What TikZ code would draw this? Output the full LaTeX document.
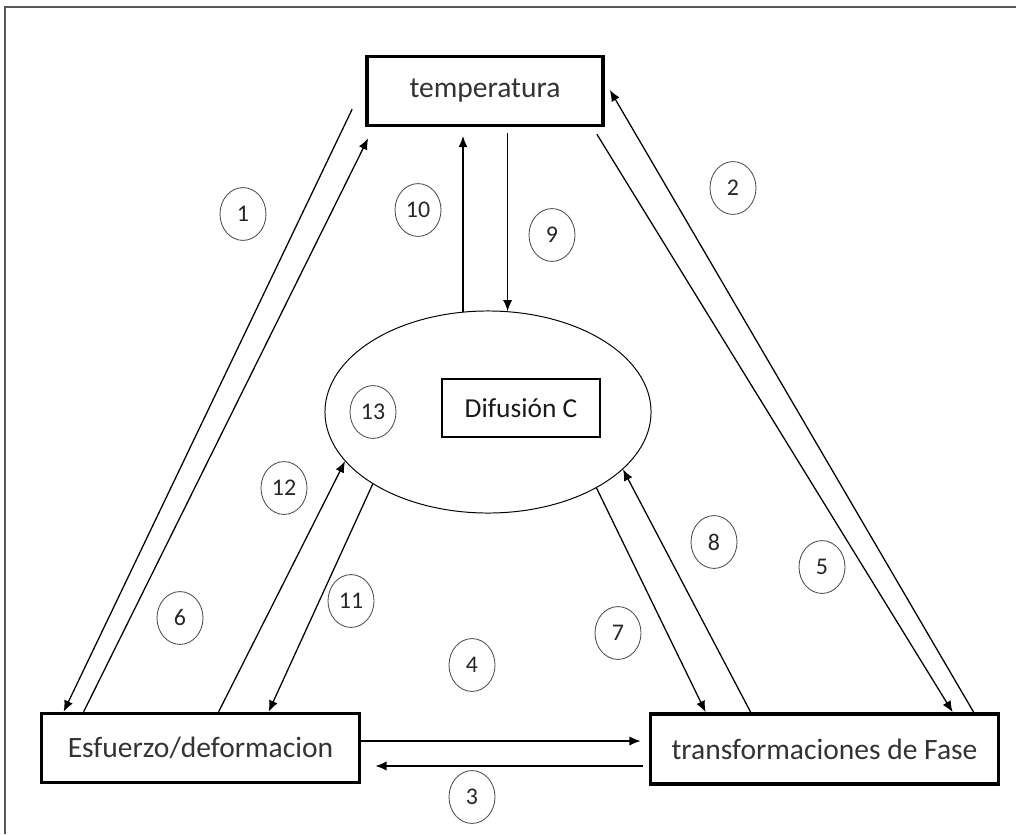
\documentclass[tikz,border=0pt]{standalone}
\usepackage{fontspec}
\setmainfont{Carlito}
\usetikzlibrary{calc,arrows.meta,shapes.geometric}
\tikzset{
    caja/.style={draw, line width=2.6pt, minimum height=1.72cm, inner sep=0pt, font=\fontsize{21}{24}\selectfont, text=black!80},
    num/.style={ellipse, draw=black!70, line width=0.6pt, minimum width=1.15cm, minimum height=1.32cm, inner sep=0pt, font=\fontsize{17}{19}\selectfont, text=black!85},
    flecha/.style={line width=0.9pt, -{Latex[length=2.8mm,width=2.3mm]}},
    linea/.style={line width=0.9pt},
  }
\begin{document}
\begin{tikzpicture}[x=0.025cm,y=-0.025cm]
	\useasboundingbox (0,0) rectangle (1016,834);
	%CADRE
	\draw[black!65, line width=0.8pt] (5,834) -- (5,7) -- (1016,7);
	%BOITES
	\node[caja, minimum width=5.9cm] (temp) at (485,91) {temperatura};
	\node[caja, minimum width=7.95cm] (esf) at (200.5,748) {Esfuerzo/deformacion};
	\node[caja, minimum width=8.7cm, minimum height=1.75cm] (trans) at (824.5,749) {transformaciones de Fase};
	%ELLIPSE
	\node[ellipse, draw, line width=0.7pt, minimum width=8.15cm, minimum height=5.05cm] (ell) at (488,412) {};
	\node[draw, line width=1pt, minimum width=3.95cm, minimum height=1.45cm, font=\fontsize{19.5}{22}\selectfont, text=black!90] (dif) at (521,408) {Difusión C};
	%TEMPERATURA - ESFUERZO
	\coordinate (l1) at ($(temp.south west)+(-13,-18)$);
	\draw[flecha] (l1) -- ($(esf.north west)+(24,0)$);
	\draw[flecha] ($(esf.north west)+(44,0)$) -- ($(temp.south west)+(3,11)$);
	%TEMPERATURA - TRANSFORMACIONES
	\draw[flecha] ($(trans.north west)+(325,0)$) -- ($(temp.east)+(5,-1)$);
	\coordinate (l5) at ($(temp.south east)+(-8,7)$);
	\draw[flecha] (l5) -- ($(trans.north west)+(304,0)$);
	%ESFUERZO - TRANSFORMACIONES
	\draw[flecha] ($(esf.east)+(0,-7)$) -- ($(trans.west)+(-8,-8)$);
	\draw[flecha] ($(trans.west)+(-6,17)$) -- ($(esf.east)+(14,18)$);
	%DIFUSION
	\draw[flecha] (ell.104) -- ([yshift=-0.22cm]temp.south -| ell.104);
	\draw[flecha] ([yshift=-0.15cm]temp.south -| ell.79) -- (ell.79);
	\draw[flecha] (ell.212) -- ($(esf.north west)+(229,0)$);
	\draw[flecha] ($(esf.north west)+(179,0)$) -- (ell.199);
	\draw[flecha] (ell.325) -- ($(trans.north west)+(57,0)$);
	\draw[flecha] ($(trans.north west)+(102,0)$) -- (ell.337);
	%NUMEROS
	\foreach \n/\x/\y in {1/243/214, 2/733/188, 3/472/797, 4/472/665, 5/822/567, 6/180/618, 7/618/633, 8/714/542, 9/552/235, 10/418/210, 11/351/601, 12/284/488, 13/373/412}
	  \node[num] (n\n) at (\x,\y) {\n};
\end{tikzpicture}
\end{document}
